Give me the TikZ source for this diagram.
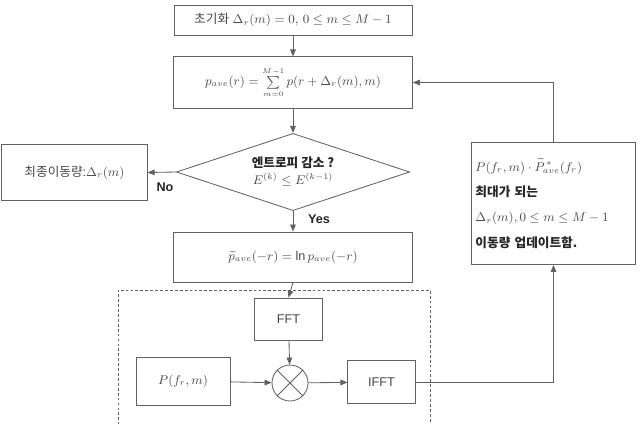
\documentclass[tikz,border=0pt]{standalone}
\usepackage{amsmath, amssymb}
\usepackage{fontspec}
\setmainfont{Liberation Sans}
\newfontfamily\kr{Noto Sans CJK KR}
\usetikzlibrary{positioning, arrows.meta, shapes.geometric}
\definecolor{linegray}{gray}{0.38}
\definecolor{textgray}{gray}{0.28}

\begin{document}
\begin{tikzpicture}[x=0.025cm, y=-0.025cm,
  box/.style={rectangle, draw=linegray, semithick, text=textgray, font=\small, inner sep=2pt},
  dec/.style={diamond, aspect=3, draw=linegray, semithick, inner sep=0pt, minimum width=5.83cm, minimum height=1.93cm, text=textgray, font=\small, align=center},
  mul/.style={circle, draw=linegray, semithick, minimum size=0.9cm, inner sep=0pt},
  arr/.style={-{Triangle[length=5pt, width=4pt]}, semithick, draw=linegray},
  lbl/.style={font=\small\bfseries, text=black!85}
]
  \useasboundingbox (0,0) rectangle (641,423);

  % main loop
  \node[box, minimum width=5.95cm, minimum height=0.75cm] (init) at (293,20)
    {{\kr 초기화} $\Delta_r(m)=0,\,0\le m\le M-1$};
  \node[box, minimum width=5.97cm, minimum height=1.28cm] (sum) at (293,82.5)
    {$p_{ave}(r)=\sum\limits_{\scriptscriptstyle m=0}^{\scriptscriptstyle M-1}p(r+\Delta_r(m),m)$};
  \node[dec] (ent) at (293,172)
    {{\kr\bfseries\color{black!85} 엔트로피 감소 ?}\\[1pt] $E^{(k)}\le E^{(k-1)}$};
  \node[box, minimum width=3.63cm, minimum height=1.38cm] (final) at (74.5,172.5)
    {{\kr 최종이동량}:$\Delta_r(m)$};
  \node[box, minimum width=5.97cm, minimum height=1.25cm] (lnp) at (293,257)
    {$\widetilde{p}_{ave}(-r)=\ln p_{ave}(-r)$};

  % correlation block
  \draw[linegray, dash pattern=on 2pt off 1.5pt] (118,430) -- (118,290) -- (430,290) -- (430,430);
  \node[box, minimum width=1.68cm, minimum height=1.05cm] (fft) at (288.5,319) {FFT};
  \node[mul] (mx) at (290,383) {};
  \draw[linegray, semithick] (mx.45) -- (mx.225) (mx.135) -- (mx.315);
  \node[box, minimum width=2.35cm, minimum height=1.2cm] (pf) at (183,381) {$P(f_r,m)$};
  \node[box, minimum width=1.68cm, minimum height=1.08cm] (ifft) at (381.5,382) {IFFT};

  \node[box, text width=3.9cm, align=left, minimum height=3.05cm, inner sep=3pt] (upd) at (553.5,203.5)
    {$P(f_r,m)\cdot\widetilde{P}^{\,*}_{ave}(f_r)$\\[7pt]
     {\kr\bfseries\color{black!85} 최대가 되는}\\[7pt]
     $\Delta_r(m),0\le m\le M-1$\\[7pt]
     {\kr\bfseries\color{black!85} 이동량 업데이트함.}};

  \draw[arr] (init) -- (sum);
  \draw[arr] (sum) -- (ent);
  \draw[arr] (ent.west) -- (final.east);
  \draw[arr] (ent.south) -- (lnp.north);
  \draw[arr] (lnp.south) -- (fft.north);
  \draw[arr] (fft) -- (mx);
  \draw[arr] (pf) -- (mx);
  \draw[arr] (mx) -- (ifft);
  \draw[arr] (ifft.east) -| (upd.south);
  \draw[arr] (upd.north) |- (sum.east);

  \node[lbl] (no) at (165,187) {No};
  \node[lbl] (yes) at (319,219) {Yes};
\end{tikzpicture}
\end{document}
